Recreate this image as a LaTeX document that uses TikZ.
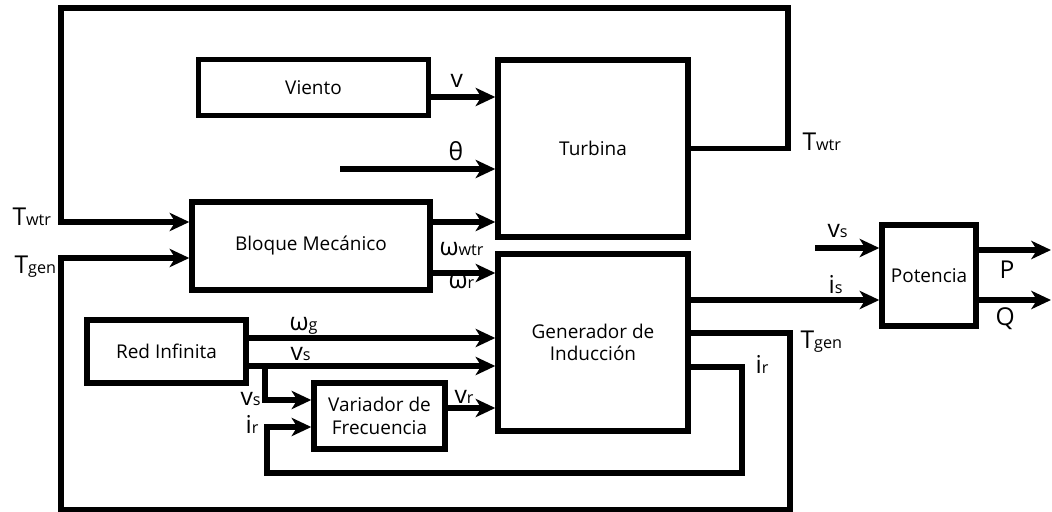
\documentclass[tikz,border=0pt]{standalone}
\usepackage{fontspec}
\setmainfont{Open Sans}
\usetikzlibrary{arrows.meta}
\newcommand{\sgl}[2]{#1{\fontsize{11.5}{11.5}\selectfont #2}}
\begin{document}
\begin{tikzpicture}[x=0.025cm, y=-0.025cm, line width=3.6pt,
	block/.style={draw, line width=3.8pt, inner sep=0pt, font=\fontsize{13.5}{16}\selectfont, align=center},
	arr/.style={-{Stealth[length=14pt, width=13pt, inset=4pt]}},
	lbl/.style={anchor=base west, inner sep=0pt, font=\fontsize{17.5}{17.5}\selectfont}]
	\useasboundingbox (0,0) rectangle (1052,512);
	% bloques
	\node[block, minimum width=5.75cm, minimum height=1.4cm] (viento) at (313.5,87.5) {Viento};
	\node[block, minimum width=4.75cm, minimum height=4.425cm] (turbina) at (593,148.5) {Turbina};
	\node[block, minimum width=5.95cm, minimum height=2.2cm] (bloque) at (311,246) {Bloque Mecánico};
	\node[block, minimum width=4.75cm, minimum height=4.425cm] (generador) at (593,342.5) {Generador de\\Inducción};
	\node[block, minimum width=3.975cm, minimum height=1.575cm] (red) at (166.5,351.5) {Red Infinita};
	\node[block, minimum width=3.275cm, minimum height=1.65cm] (variador) at (379.5,416) {Variador de\\Frecuencia};
	\node[block, minimum width=2.35cm, minimum height=2.525cm] (potencia) at (929,275.5) {Potencia};
	% puntos libres
	\coordinate (tht) at (340,169);
	\coordinate (twtrR) at (788,8);
	\coordinate (twtrL) at (61,8);
	\coordinate (tgenR) at (790,510);
	\coordinate (tgenL) at (61,510);
	\coordinate (vsbr) at (265,366);
	\coordinate (irR) at (742,473);
	\coordinate (irL) at (267,473);
	\coordinate (vsin) at (815,248);
	\coordinate (pout) at (1051,250);
	\coordinate (qout) at (1051,300);
	% conexiones
	\draw[arr] (viento.east |- 0,97) -- (turbina.west |- 0,97);
	\draw[arr] (tht) -- (turbina.west |- tht);
	\draw[arr] (turbina.east) -| (twtrR) -- (twtrL) |- (bloque.west |- 0,222);
	\draw[arr] (generador.east |- 0,333) -| (tgenR) -- (tgenL) |- (bloque.west |- 0,258);
	\draw[arr] (bloque.east |- 0,222) -- (turbina.west |- 0,222);
	\draw[arr] (bloque.east |- 0,273) -- (generador.west |- 0,273);
	\draw[arr] (red.east |- 0,338) -- (generador.west |- 0,338);
	\draw[arr] (red.east |- 0,366) -- (generador.west |- 0,366);
	\draw[arr] (vsbr) |- (variador.west |- 0,400);
	\draw[arr] (variador.east |- 0,408) -- (generador.west |- 0,408);
	\draw[arr] (generador.east |- 0,367) -| (irR) -- (irL) |- (variador.west |- 0,427);
	\draw[arr] (generador.east |- 0,300) -- (potencia.west |- 0,300);
	\draw[arr] (vsin) -- (potencia.west |- vsin);
	\draw[arr] (potencia.east |- pout) -- (pout);
	\draw[arr] (potencia.east |- qout) -- (qout);
	% etiquetas
	\foreach \nm/\px/\py/\txt in {
		lTwtrL/10/225/{\sgl{T}{wtr}}, lTgenL/12/273/{\sgl{T}{gen}},
		lTwtrR/800/150/{\sgl{T}{wtr}}, lTgenR/798/348/{\sgl{T}{gen}},
		lv/448/88/{v}, lth/446/160/{θ},
		lwwtr/437/255/{\sgl{ω}{wtr}}, lwr/446/288/{\sgl{ω}{r}},
		lwg/287/330/{\sgl{ω}{g}}, lvs/288/360/{\sgl{v}{s}},
		lvsb/238/405/{\sgl{v}{s}}, lirL/243/433/{\sgl{i}{r}},
		lvr/452/403/{\sgl{v}{r}}, lirR/753/373/{\sgl{i}{r}},
		lis/826/293/{\sgl{i}{s}}, lvsp/825/237/{\sgl{v}{s}},
		lP/997/278/{P}, lQ/993/325/{Q}} {
		\node[lbl] (\nm) at (\px,\py) {\txt};
	}
\end{tikzpicture}
\end{document}
